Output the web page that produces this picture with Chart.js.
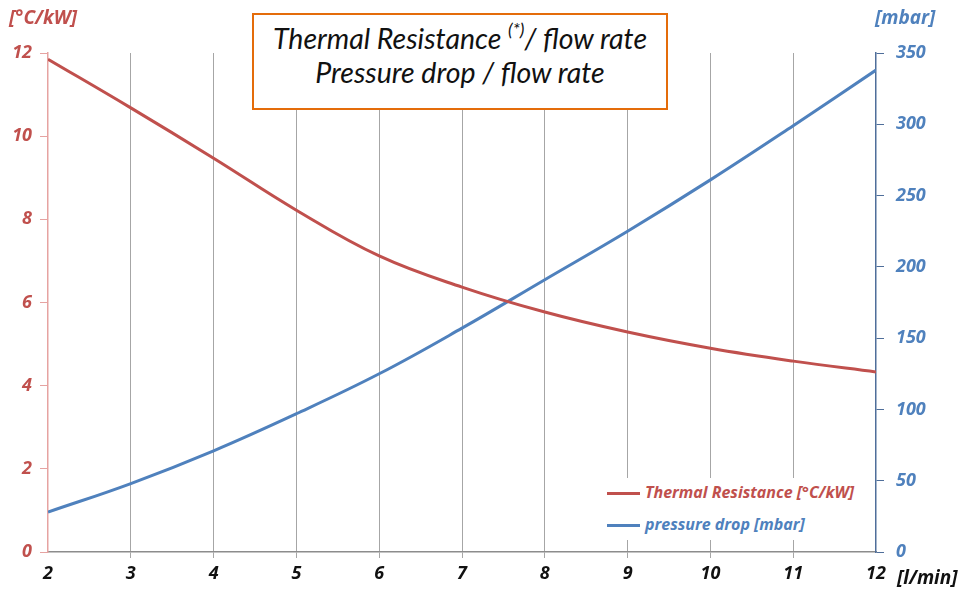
<!DOCTYPE html>
<html>
<head>
<meta charset="utf-8">
<script src="https://cdn.jsdelivr.net/npm/chart.js@4"></script>
<style>
  body { margin: 0; background: #fff; font-family: Lato, "Open Sans", sans-serif; }
  #wrap { position: relative; width: 962px; height: 591px; }
  #titlebox {
    position: absolute; left: 252px; top: 13px; width: 412px; height: 87px;
    border: 2px solid #E46C0A; background: #fff; text-align: center;
    font-style: italic; font-size: 28.5px; line-height: 34px; color: #111;
    padding-top: 6px; box-sizing: content-box;
  }
  #titlebox sup { font-size: 18px; vertical-align: 13px; line-height: 0; }
  .unit { position: absolute; font-family: "Open Sans", sans-serif; font-weight: bold; font-style: italic; font-size: 19px; }
  #legend {
    position: absolute; left: 600px; top: 478px; width: 270px; height: 62px;
    background: #fff; font-family: "Open Sans", sans-serif; font-weight: bold; font-style: italic; font-size: 16px;
  }
  .row { position: absolute; left: 7px; height: 22px; line-height: 22px; white-space: nowrap; }
  .row span.sw { display: inline-block; width: 33px; height: 3px; vertical-align: middle; margin-right: 5px; }
</style>
</head>
<body>
<div id="wrap">
  <canvas id="myChart" width="962" height="591"></canvas>
  <div id="titlebox">Thermal Resistance <sup>(*)</sup>/ flow rate<br>Pressure drop / flow rate</div>
  <div class="unit" style="left:9px;top:4px;color:#C0504D">[°C/kW]</div>
  <div class="unit" style="left:875px;top:4px;color:#4F81BD">[mbar]</div>
  <div class="unit" style="left:897px;top:564px;color:#111">[l/min]</div>
  <div id="legend">
    <div class="row" style="top:3px;color:#C0504D"><span class="sw" style="background:#C0504D"></span>Thermal Resistance [°C/kW]</div>
    <div class="row" style="top:35px;color:#4F81BD"><span class="sw" style="background:#4F81BD"></span>pressure drop [mbar]</div>
  </div>
</div>
<script>
const flowRate = [2, 3, 4, 5, 6, 7, 8, 9, 10, 11, 12];
const thermalResistance = [11.85, 10.68, 9.47, 8.22, 7.12, 6.37, 5.77, 5.29, 4.9, 4.59, 4.33];
const pressureDrop = [28, 48, 71, 97, 125, 157, 191, 225, 261, 299, 338];

const red = "#C0504D";
const blue = "#4F81BD";
const tickFont = { family: "Open Sans", size: 18, weight: "bold", style: "italic" };

const toPoints = function (ys) {
  return flowRate.map(function (x, i) { return { x: x, y: ys[i] }; });
};

const ctx = document.getElementById("myChart").getContext("2d");
const myChart = new Chart(ctx, {
  type: "line",
  data: {
    datasets: [
      {
        label: "Thermal Resistance [°C/kW]",
        data: toPoints(thermalResistance),
        borderColor: red,
        borderWidth: 3,
        pointRadius: 0,
        tension: 0.4,
        yAxisID: "y",
      },
      {
        label: "pressure drop [mbar]",
        data: toPoints(pressureDrop),
        borderColor: blue,
        borderWidth: 3,
        pointRadius: 0,
        tension: 0.4,
        yAxisID: "y1",
      },
    ],
  },
  options: {
    responsive: false,
    animation: false,
    layout: { padding: { top: 53, left: 0, right: 0, bottom: 0 } },
    plugins: { legend: { display: false }, tooltip: { enabled: false } },
    scales: {
      x: {
        type: "linear",
        min: 2,
        max: 12,
        ticks: { stepSize: 1, color: "#111", font: tickFont, padding: 5 },
        grid: {
          color: function (c) {
            return c.tick && (c.tick.value === 2 || c.tick.value === 12) ? "rgba(0,0,0,0)" : "#A6A6A6";
          },
          lineWidth: 1,
          tickLength: 6,
        },
        border: { color: "#8C8C8C", width: 1.5 },
        afterFit: function (scale) { scale.height = 39; },
      },
      y: {
        position: "left",
        min: 0,
        max: 12,
        ticks: { stepSize: 2, color: red, font: tickFont, padding: 8 },
        grid: { drawOnChartArea: false, color: "#E6A3A1", tickLength: 8 },
        border: { color: "#E6A3A1", width: 1.5 },
        afterFit: function (scale) { scale.width = 48; },
      },
      y1: {
        position: "right",
        min: 0,
        max: 350,
        ticks: { stepSize: 50, color: blue, font: tickFont, padding: 12 },
        grid: { drawOnChartArea: false, color: "#4F6E9A", tickLength: 8 },
        border: { color: "#4F6E9A", width: 1.5 },
        afterFit: function (scale) { scale.width = 86; },
      },
    },
  },
});
</script>
</body>
</html>
